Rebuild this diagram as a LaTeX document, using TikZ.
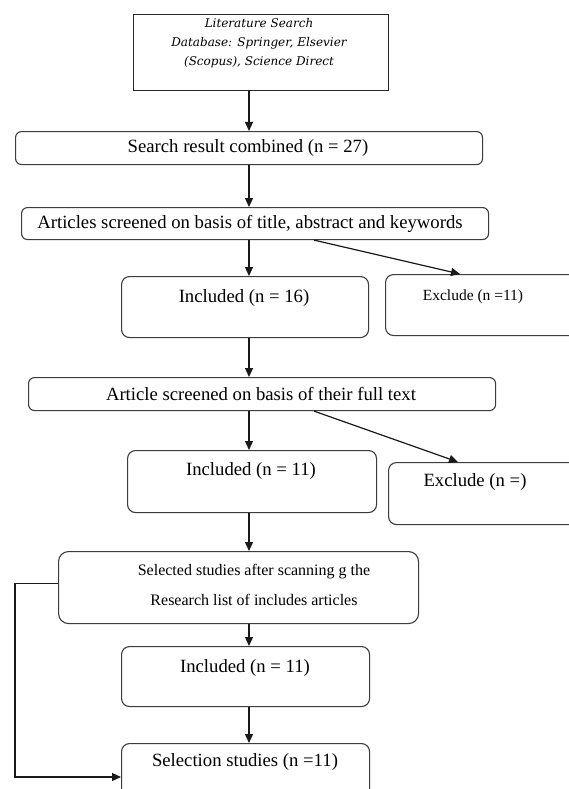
\documentclass[tikz,border=0pt]{standalone}
\usepackage{fontspec}
\setmainfont{Liberation Serif}
\newfontfamily\dvserif{DejaVu Serif}
\usetikzlibrary{arrows.meta}
\definecolor{boxc}{HTML}{3C3C3C}
\begin{document}
\begin{tikzpicture}[x=1pt,y=-1pt,
  box/.style={draw=boxc, line width=1.1pt, rounded corners=8pt, inner sep=0pt, anchor=north west},
  arr/.style={draw=black!90, line width=1.2pt, -{Triangle[length=9pt,width=8pt]}},
  txt/.style={inner sep=0pt, font=\fontsize{18.7}{22}\selectfont},
  smalltxt/.style={inner sep=0pt, font=\fontsize{15.5}{18}\selectfont},
  midtxt/.style={inner sep=0pt, font=\fontsize{16}{18}\selectfont}]
\useasboundingbox (0,0) rectangle (569,789);
\clip (0,0) rectangle (569,789);
\fill[white] (0,0) rectangle (569,789);
\coordinate (ax) at (249,0);
\coordinate (lx) at (15,700);
% boxes
\node[box, rounded corners=0pt, line width=1.3pt, draw=black!85, minimum width=255pt, minimum height=76pt] (top) at (133,14) {};
\node[box, rounded corners=6pt, minimum width=467pt, minimum height=33pt] (search) at (15,131) {};
\node[box, rounded corners=6pt, minimum width=467pt, minimum height=32pt] (artscr) at (21,207) {};
\node[box, minimum width=247pt, minimum height=61pt] (inc1) at (121,276) {};
\node[box, minimum width=215pt, minimum height=61pt] (exc1) at (385,274) {};
\node[box, rounded corners=6pt, minimum width=467pt, minimum height=33pt] (full) at (28,377) {};
\node[box, minimum width=249pt, minimum height=62pt] (inc2) at (127,450) {};
\node[box, minimum width=212pt, minimum height=62pt] (exc2) at (388,462) {};
\node[box, rounded corners=10pt, minimum width=360pt, minimum height=72pt] (sel) at (58,551) {};
\node[box, minimum width=248pt, minimum height=60pt] (inc3) at (121,646) {};
\node[box, minimum width=248pt, minimum height=77pt] (fin) at (121,743) {};
% texts
\node[inner sep=0pt, align=center, font=\dvserif\itshape\fontsize{12}{19}\selectfont] (toptxt) at (259,43)
  {Literature Search\\Database: Springer, Elsevier\\(Scopus), Science Direct};
\node[txt] (searchtxt) at (248,148) {Search result combined (n = 27)};
\node[txt] (artscrtxt) at (250,224) {Articles screened on basis of title, abstract and keywords};
\node[txt] (inc1txt) at (244,298) {Included (n = 16)};
\node[smalltxt] (exc1txt) at (473,297) {Exclude (n =11)};
\node[txt] (fulltxt) at (261,394) {Article screened on basis of their full text};
\node[txt] (inc2txt) at (251,471) {Included (n = 11)};
\node[txt] (exc2txt) at (475,482) {Exclude (n =)};
\node[midtxt] (seltxta) at (254,572) {Selected studies after scanning g the};
\node[midtxt] (seltxtb) at (254,600) {Research list of includes articles};
\node[txt] (inc3txt) at (245,668) {Included (n = 11)};
\node[txt] (fintxt) at (245,762) {Selection studies (n =11)};
% connectors
\draw[arr] (top.south -| ax) -- (search.north -| ax);
\draw[arr] (search.south -| ax) -- (artscr.north -| ax);
\draw[arr] (artscr.south -| ax) -- (inc1.north -| ax);
\draw[arr] ([xshift=293pt]artscr.south west) -- ([xshift=75pt]exc1.north west);
\draw[arr] (inc1.south -| ax) -- (full.north -| ax);
\draw[arr] (full.south -| ax) -- (inc2.north -| ax);
\draw[arr] ([xshift=286pt]full.south west) -- ([xshift=70pt]exc2.north west);
\draw[arr] (inc2.south -| ax) -- (sel.north -| ax);
\draw[arr] (sel.south -| ax) -- (inc3.north -| ax);
\draw[arr] (inc3.south -| ax) -- (fin.north -| ax);
\draw[arr] ([yshift=4pt]sel.west) -| (lx) |- ([yshift=-34pt]fin.north west);
\end{tikzpicture}
\end{document}
